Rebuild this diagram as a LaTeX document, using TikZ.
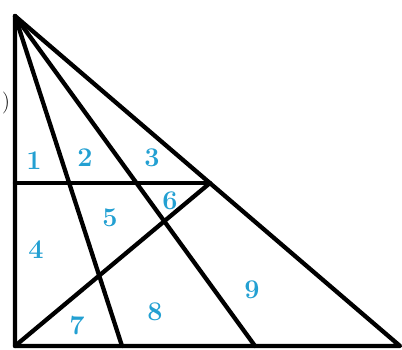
\documentclass[tikz,border=0pt]{standalone}
\usepackage{tikz}
\definecolor{lab}{RGB}{35,160,210}
\begin{document}
\begin{tikzpicture}[x=1pt,y=-1pt,
  edge/.style={line width=4.3pt,black,line cap=round,line join=round},
  num/.style={text=lab,font=\bfseries\fontsize{27}{27}\selectfont,inner sep=0pt}]
\useasboundingbox (0,0) rectangle (402,350);
\coordinate (A) at (15,16);
\coordinate (BL) at (15,346);
\coordinate (BR) at (400,346);
\coordinate (H) at (210,183);
\coordinate (HL) at (15,183);
\coordinate (P1) at (122,346);
\coordinate (P2) at (255,346);
\draw[edge] (A) -- (BL) -- (BR) -- cycle;
\draw[edge] (HL) -- (H);
\draw[edge] (BL) -- (H);
\draw[edge] (A) -- (P1);
\draw[edge] (A) -- (P2);
\node[num] (n1) at (34,161) {1};
\node[num] (n2) at (85,158) {2};
\node[num] (n3) at (152,158) {3};
\node[num] (n4) at (36,250) {4};
\node[num] (n5) at (110,218) {5};
\node[num] (n6) at (170,201) {6};
\node[num] (n7) at (77,326) {7};
\node[num] (n8) at (155,312) {8};
\node[num] (n9) at (252,290) {9};
\node[font=\fontsize{22}{22}\selectfont,inner sep=0pt] (par) at (6,103) {)};
\end{tikzpicture}
\end{document}
